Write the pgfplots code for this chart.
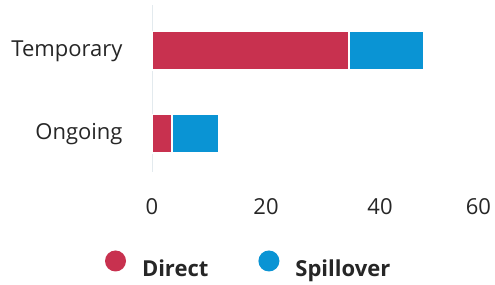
\documentclass[border=0pt]{standalone}
\usepackage{fontspec}
\setmainfont{Open Sans}
\usepackage{pgfplots}
\pgfplotsset{compat=1.18}
\definecolor{direct}{HTML}{C8314F}
\definecolor{spill}{HTML}{0A94D4}
\definecolor{txt}{HTML}{262626}
\definecolor{axl}{HTML}{E3EAEE}
\begin{document}
\begin{tikzpicture}
\begin{axis}[
  at={(152pt,112pt)}, anchor=south west,
  scale only axis, width=342pt, height=167pt,
  xbar stacked, bar width=38.5pt,
  xmin=0, xmax=60, ymin=-0.458, ymax=1.554,
  xtick={0,20,40,60}, xticklabels={0,20,40,\llap{60\hspace{3pt}}},
  ytick={0,1}, yticklabels={Ongoing,Temporary},
  major tick length=0pt,
  axis x line=bottom, axis y line=left,
  axis line style={-},
  x axis line style={draw=none},
  y axis line style={draw=axl, line width=1pt},
  tick label style={font=\fontsize{22}{26}\selectfont, text=txt},
  xticklabel style={yshift=-23pt},
  yticklabel style={xshift=-26pt},
  legend columns=2,
  legend style={draw=none, at={(-0.1374,-0.552)}, anchor=west, inner sep=0pt, outer sep=0pt,
    font=\fontsize{22}{26}\selectfont\bfseries, text=txt,
    nodes={inner sep=0pt},
    /tikz/every odd column/.append style={column sep=16pt},
    /tikz/every even column/.append style={column sep=50pt}},
  legend image code/.code={\fill[#1, draw=none] (10.5pt,7.8pt) circle (10.5pt);},
]
\addplot[fill=direct, draw=white, line width=1.5pt] coordinates {(3.5,0) (34.6,1)};
\addplot[fill=spill, draw=white, line width=1.5pt] coordinates {(8.25,0) (13.1,1)};
\legend{Direct, Spillover}
\end{axis}
\pgfresetboundingbox
\path[use as bounding box] (0,0) rectangle (495pt,284pt);
\end{tikzpicture}
\end{document}
